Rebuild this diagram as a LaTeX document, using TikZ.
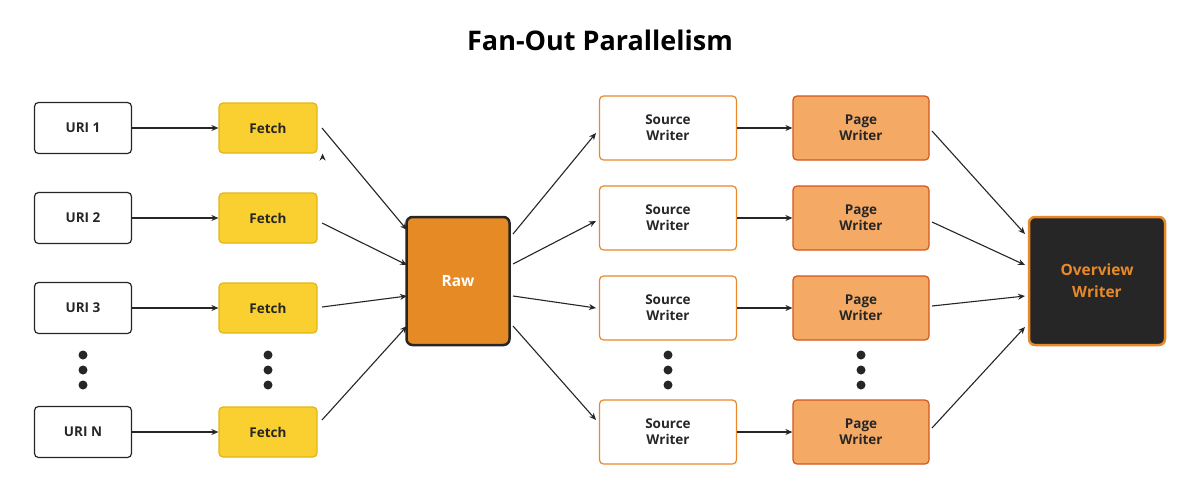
\documentclass[tikz,border=0pt]{standalone}
\usepackage{fontspec}
\setmainfont{Open Sans}
\usetikzlibrary{arrows.meta}
\definecolor{fetchf}{HTML}{F9D030}
\definecolor{fetchd}{HTML}{E3B614}
\definecolor{rawf}{HTML}{E68A25}
\definecolor{dark}{HTML}{262626}
\definecolor{srcd}{HTML}{E8892A}
\definecolor{pagef}{HTML}{F4A965}
\definecolor{paged}{HTML}{D4571C}
\definecolor{txt}{HTML}{262626}
\begin{document}
\begin{tikzpicture}[x=1pt,y=-1pt,
  base/.style={rounded corners=4pt,font=\bfseries\fontsize{13.5}{16}\selectfont,text=txt,align=center,line width=1.2pt},
  uri/.style={base,draw=dark,fill=white,minimum width=97pt,minimum height=51pt},
  fetch/.style={base,draw=fetchd,fill=fetchf,minimum width=98pt,minimum height=50pt},
  src/.style={base,draw=srcd,fill=white,minimum width=137pt,minimum height=64pt},
  page/.style={base,draw=paged,fill=pagef,minimum width=136pt,minimum height=64pt},
  big/.style={base,line width=2.5pt,rounded corners=6pt,minimum width=103pt,minimum height=128pt,font=\bfseries\fontsize{15.5}{22}\selectfont},
  arr/.style={-{Stealth[length=7pt,width=6pt]},line width=1.1pt,draw=dark},
  dot/.style={circle,fill=dark,inner sep=0pt,minimum size=9pt}]
\useasboundingbox[fill=white] (0,0) rectangle (1200,498);
\node[font=\bfseries\fontsize{27}{32}\selectfont,text=black] (title) at (600,40) {Fan-Out Parallelism};
\foreach \i/\y/\l in {1/128/1,2/218/2,3/308/3,4/432/N}{
  \node[uri] (u\i) at (83,\y) {URI \l};
  \node[fetch] (f\i) at (268,\y) {Fetch};
  \node[src] (s\i) at (668,\y) {Source\\Writer};
  \node[page] (p\i) at (861,\y) {Page\\Writer};
  \draw[arr] (u\i) -- (f\i);
  \draw[arr] (s\i) -- (p\i);
}
\node[big,draw=dark,fill=rawf,text=white] (raw) at (458,281) {Raw};
\node[big,draw=srcd,fill=dark,text=srcd,minimum width=136pt] (ov) at (1097,281) {Overview\\Writer};
\foreach \x in {83,268,668,861}{
  \foreach \y in {355,370,385} \node[dot] at (\x,\y) {};
}
\coordinate (r1) at (407,230); \coordinate (r2) at (407,265);
\coordinate (r3) at (407,296); \coordinate (r4) at (407,326);
\coordinate (o1) at (1029,237); \coordinate (o2) at (1029,265);
\coordinate (o3) at (1029,296); \coordinate (o4) at (1029,326);
\coordinate (q1) at (510,236); \coordinate (q2) at (510,262);
\coordinate (q3) at (510,296); \coordinate (q4) at (510,326);
\draw[arr] (f1.south east) ++(5,0) coordinate (a1);
\draw[arr] (322,128) -- (r1);
\draw[arr] (322,223) -- (r2);
\draw[arr] (322,307) -- (r3);
\draw[arr] (322,420) -- (r4);
\draw[arr] (513,234) -- (596,133);
\draw[arr] (513,264) -- (596,221);
\draw[arr] (513,296) -- (596,308);
\draw[arr] (513,326) -- (596,420);
\draw[arr] (932,131) -- (1025,234);
\draw[arr] (932,222) -- (1025,265);
\draw[arr] (932,306) -- (1025,296);
\draw[arr] (932,428) -- (1025,327);
\end{tikzpicture}
\end{document}
